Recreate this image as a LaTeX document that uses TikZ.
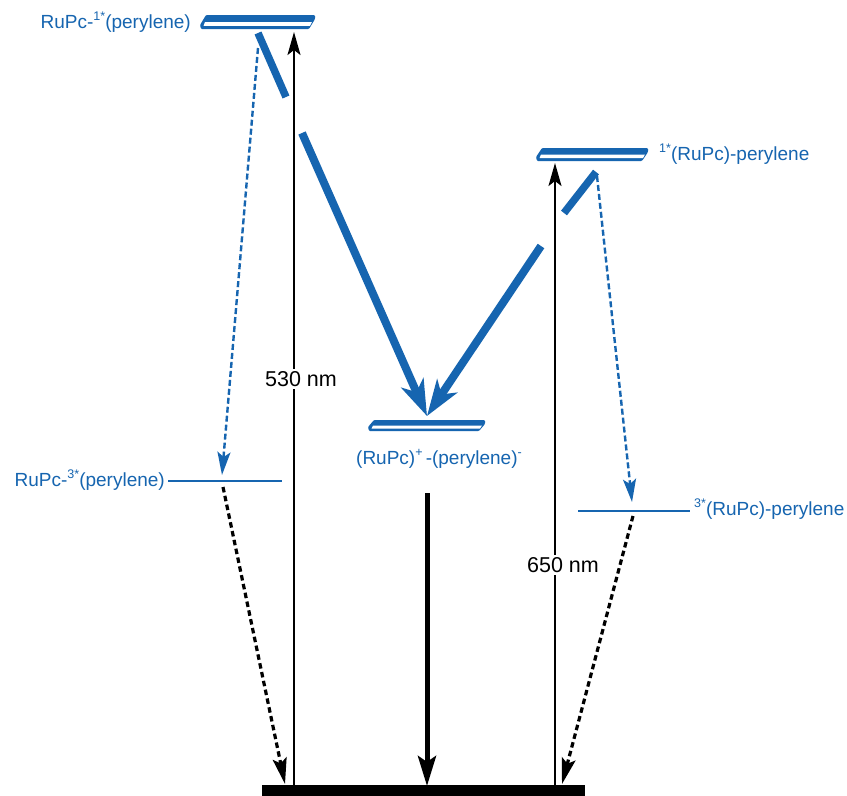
\documentclass[tikz,border=0pt]{standalone}
\usepackage{fontspec}
\setmainfont{Liberation Sans}
\usetikzlibrary{arrows.meta}
\definecolor{lvblue}{RGB}{22,101,176}
\newcommand\supx[1]{\raisebox{0.42em}{\fontsize{12.5}{12.5}\selectfont #1}}
% slab: x1 x2 ytop ybot
\newcommand\slab[4]{%
  \fill[lvblue,rounded corners=1pt] (#1+1,#4) -- (#1,#4-4) -- (#1+6,#3) -- (#2,#3) -- (#2,#3+4) -- (#2-6,#4) -- cycle;
  \fill[white] (#1+3.5,#4-0.22*#4+0.22*#3) -- (#1+5,#3+0.5*#4-0.5*#3) -- (#2-3,#3+0.5*#4-0.5*#3) -- (#2-5,#4-0.22*#4+0.22*#3) -- cycle;
}
\begin{document}
\begin{tikzpicture}[x=1pt,y=-1pt,
  bluelab/.style={text=lvblue,font=\fontsize{19}{22}\selectfont,inner sep=0pt},
  blacklab/.style={font=\fontsize{21.5}{24}\selectfont,fill=white,inner sep=2pt},
  level/.style={draw=lvblue,line width=2pt},
  slant/.style={draw=lvblue,line width=7.5pt},
  bigarrow/.style={draw=lvblue,line width=8pt,-{Stealth[length=36pt,width=24pt,inset=10pt]}},
  bluedot/.style={draw=lvblue,line width=2.4pt,dash pattern=on 6pt off 3pt,-{Stealth[length=23pt,width=13pt,inset=5pt]}},
  blackdash/.style={draw=black,line width=3.2pt,dash pattern=on 5.5pt off 3.5pt,-{Stealth[length=26pt,width=14pt,inset=5pt]}},
  thinarrow/.style={draw=black,line width=2pt,-{Stealth[length=23pt,width=13pt,inset=5pt]}},
  thickarrow/.style={draw=black,line width=5pt,-{Stealth[length=30pt,width=18pt,inset=6pt]}}
]
\useasboundingbox (0,0) rectangle (847,796);
\fill[white] (0,0) rectangle (847,796);

% slabs (energy levels)
\slab{200}{315}{15}{29}
\slab{536}{648}{148}{161}
\slab{368}{485}{420}{431}

% ground bar
\fill[black] (262,785) rectangle (585,796);

% coordinates
\coordinate (g530) at (294,785); \coordinate (t530) at (294,32);
\coordinate (g650) at (555,785); \coordinate (t650) at (555,163);
\coordinate (sL1) at (258,33); \coordinate (sL2) at (286,97);
\coordinate (sR1) at (596,172); \coordinate (sR2) at (564,213);
\coordinate (bL) at (302,133); \coordinate (ct) at (427,416); \coordinate (bR) at (541,246);
\coordinate (dL1) at (258,48); \coordinate (dL2) at (222,475);
\coordinate (dR1) at (597,176); \coordinate (dR2) at (632,502);
\coordinate (kL1) at (223,487); \coordinate (kL2) at (285,784);
\coordinate (kR1) at (633,516); \coordinate (kR2) at (562,784);
\coordinate (cs) at (427,493); \coordinate (cg) at (427,786);
\coordinate (tL1) at (168,481); \coordinate (tL2) at (282,481);
\coordinate (tR1) at (578,511); \coordinate (tR2) at (690,511);

% triplet levels
\draw[level] (tL1) -- (tL2);
\draw[level] (tR1) -- (tR2);

% excitation arrows
\draw[thinarrow] (g530) -- (t530);
\draw[thinarrow] (g650) -- (t650);
\node[blacklab] (l530) at (301,379) {530 nm};
\node[blacklab] (l650) at (563,565) {650 nm};

% slanted bars
\draw[slant] (sL1) -- (sL2);
\draw[slant] (sR1) -- (sR2);

% charge separation arrows
\draw[bigarrow] (bL) -- (ct);
\draw[bigarrow] (bR) -- (ct);

% intersystem crossing
\draw[bluedot] (dL1) -- (dL2);
\draw[bluedot] (dR1) -- (dR2);

% triplet decay
\draw[blackdash] (kL1) -- (kL2);
\draw[blackdash] (kR1) -- (kR2);

% charge recombination
\draw[thickarrow] (cs) -- (cg);

% labels
\node[bluelab,anchor=east] (n1) at (191,22) {RuPc-\supx{1*}(perylene)};
\node[bluelab,anchor=west] (n2) at (659,154) {\supx{1*}(RuPc)-perylene};
\node[bluelab,anchor=east] (n3) at (165,480) {RuPc-\supx{3*}(perylene)};
\node[bluelab,anchor=west] (n4) at (694,509) {\supx{3*}(RuPc)-perylene};
\node[bluelab] (n5) at (439,459) {(RuPc)\supx{+}\,-(perylene)\supx{-}};
\end{tikzpicture}
\end{document}
